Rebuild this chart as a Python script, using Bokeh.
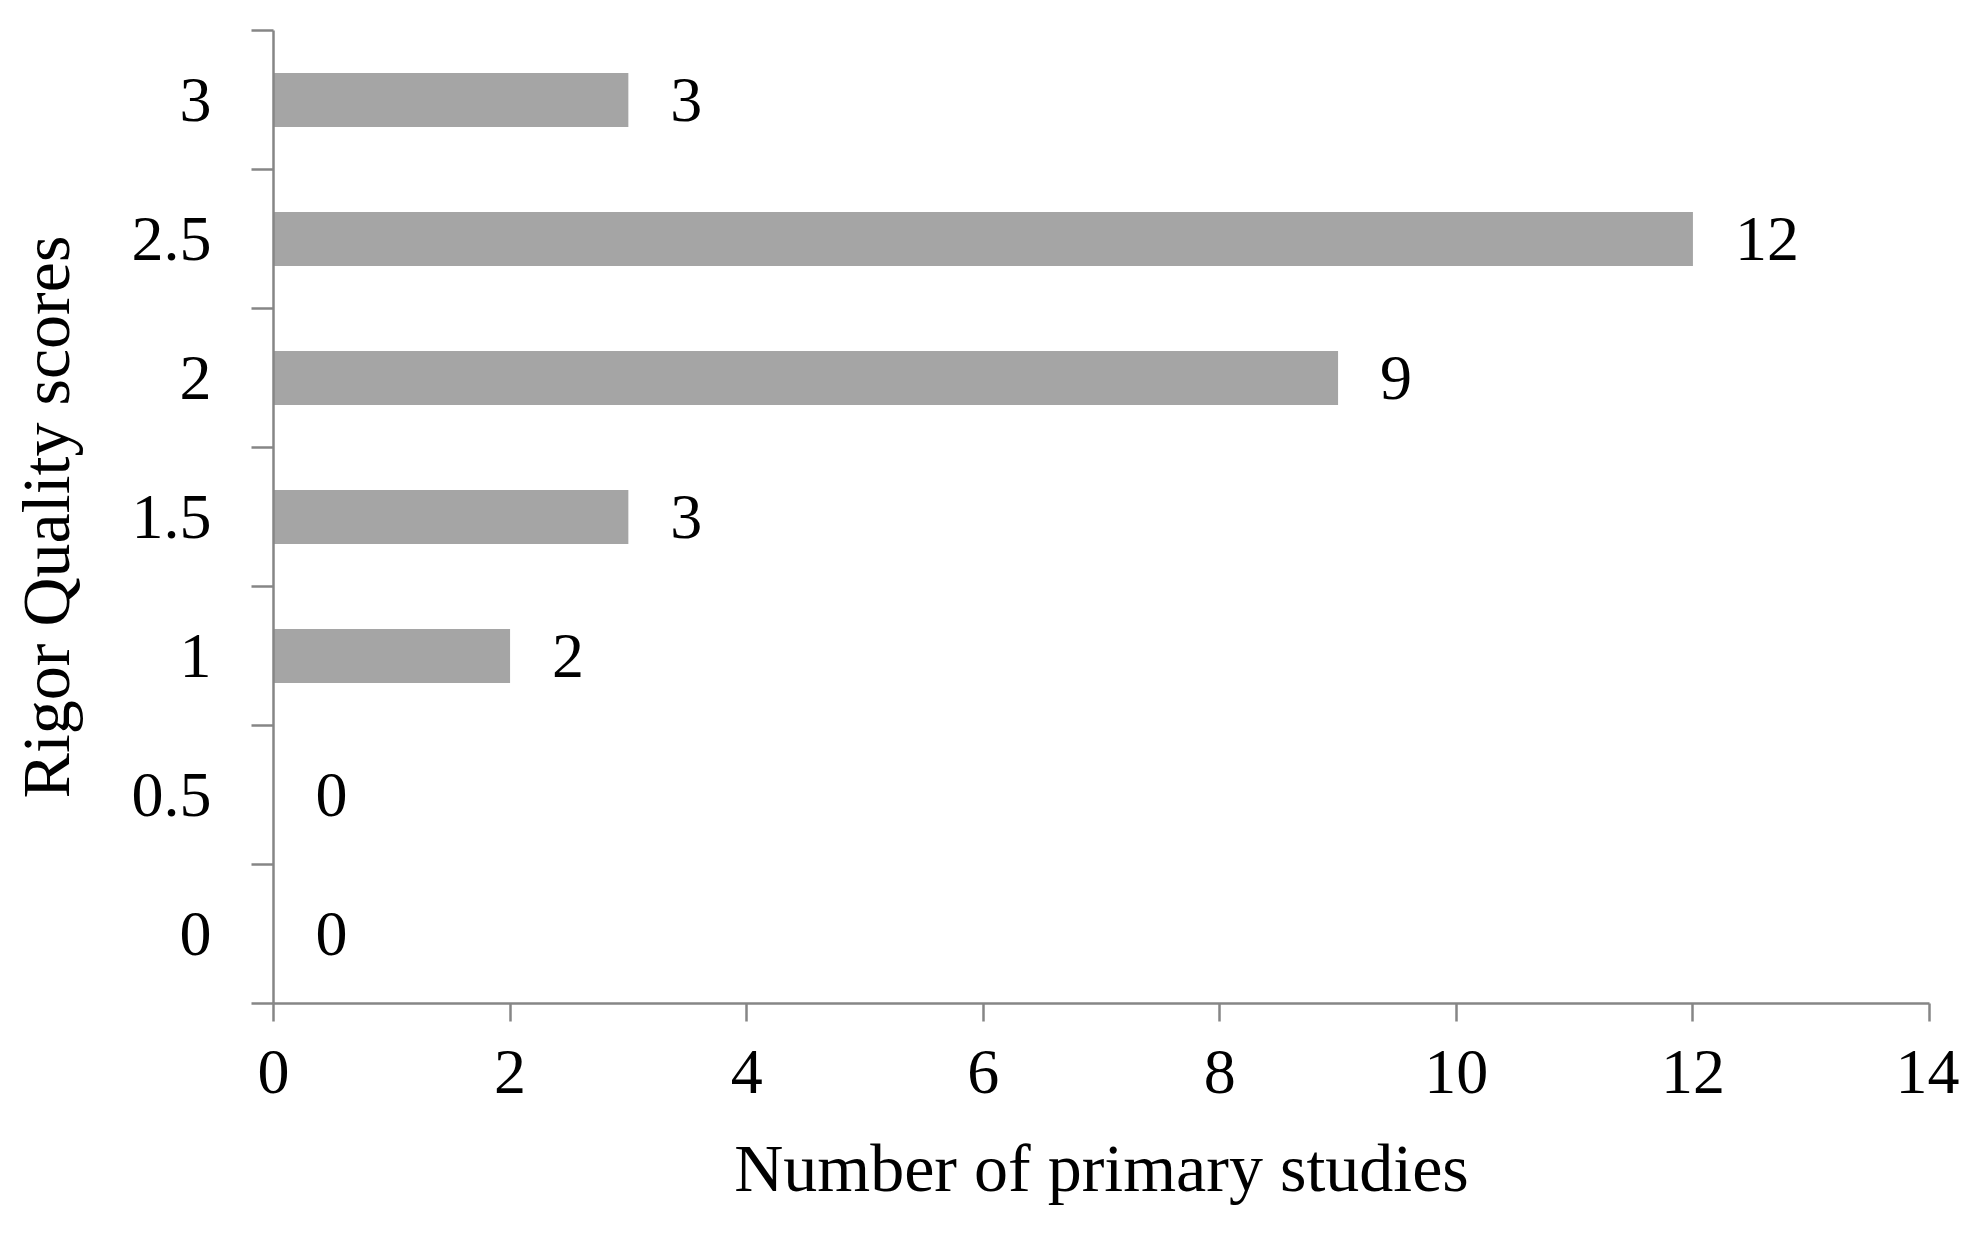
from bokeh.plotting import figure
from bokeh.models import ColumnDataSource, FixedTicker, Range1d
from bokeh.core.properties import value
from bokeh.embed import file_html
from bokeh.resources import INLINE

# Data
categories = ["0", "0.5", "1", "1.5", "2", "2.5", "3"]
counts = [0, 0, 2, 3, 9, 12, 3]
x_ticks = [0, 2, 4, 6, 8, 10, 12, 14]

positions = [i + 0.5 for i in range(len(categories))]
src = ColumnDataSource(dict(y=positions, v=counts, lab=[str(c) for c in counts]))

FONT = "Liberation Serif"
AXIS_COLOR = "#868686"

p = figure(width=1959, height=1217, output_backend="svg", toolbar_location=None,
           x_range=Range1d(0, 14), y_range=Range1d(0, len(categories)),
           min_border_left=273, min_border_right=30, min_border_top=30, min_border_bottom=214)
p.outline_line_color = None
p.xgrid.visible = False
p.ygrid.visible = False
p.background_fill_color = "white"

p.hbar(y="y", left=0, right="v", height=0.39, source=src, fill_color="#A5A5A5", line_color=None)
p.text(x="v", y="y", text="lab", source=src, x_offset=42, text_align="left", text_baseline="middle",
       text_font=value(FONT), text_font_size="64px", text_color="black")

# x axis
p.xaxis.ticker = FixedTicker(ticks=x_ticks)
p.xaxis.axis_line_color = AXIS_COLOR
p.xaxis.axis_line_width = 2.5
p.xaxis.major_tick_line_color = AXIS_COLOR
p.xaxis.major_tick_line_width = 2.5
p.xaxis.major_tick_out = 18
p.xaxis.major_tick_in = 0
p.xaxis.minor_tick_line_color = None
p.xaxis.major_label_text_font = FONT
p.xaxis.major_label_text_font_size = "64px"
p.xaxis.major_label_text_color = "black"
p.xaxis.major_label_standoff = 29
p.xaxis.axis_label = "Number of primary studies"
p.xaxis.axis_label_text_font = FONT
p.xaxis.axis_label_text_font_size = "68px"
p.xaxis.axis_label_text_font_style = "normal"
p.xaxis.axis_label_text_color = "black"
p.xaxis.axis_label_standoff = 34

# y axis
p.yaxis.ticker = FixedTicker(ticks=positions, minor_ticks=list(range(len(categories) + 1)))
p.yaxis.major_label_overrides = {pos: c for pos, c in zip(positions, categories)}
p.yaxis.axis_line_color = AXIS_COLOR
p.yaxis.axis_line_width = 2.5
p.yaxis.major_tick_line_color = None
p.yaxis.major_tick_out = 0
p.yaxis.major_tick_in = 0
p.yaxis.minor_tick_line_color = AXIS_COLOR
p.yaxis.minor_tick_line_width = 2.5
p.yaxis.minor_tick_out = 22
p.yaxis.minor_tick_in = 0
p.yaxis.major_label_text_font = FONT
p.yaxis.major_label_text_font_size = "64px"
p.yaxis.major_label_text_color = "black"
p.yaxis.major_label_standoff = 40
p.yaxis.axis_label = "Rigor Quality scores"
p.yaxis.axis_label_text_font = FONT
p.yaxis.axis_label_text_font_size = "68px"
p.yaxis.axis_label_text_font_style = "normal"
p.yaxis.axis_label_text_color = "black"
p.yaxis.axis_label_standoff = 45

open("out.html", "w").write(file_html(p, INLINE))
